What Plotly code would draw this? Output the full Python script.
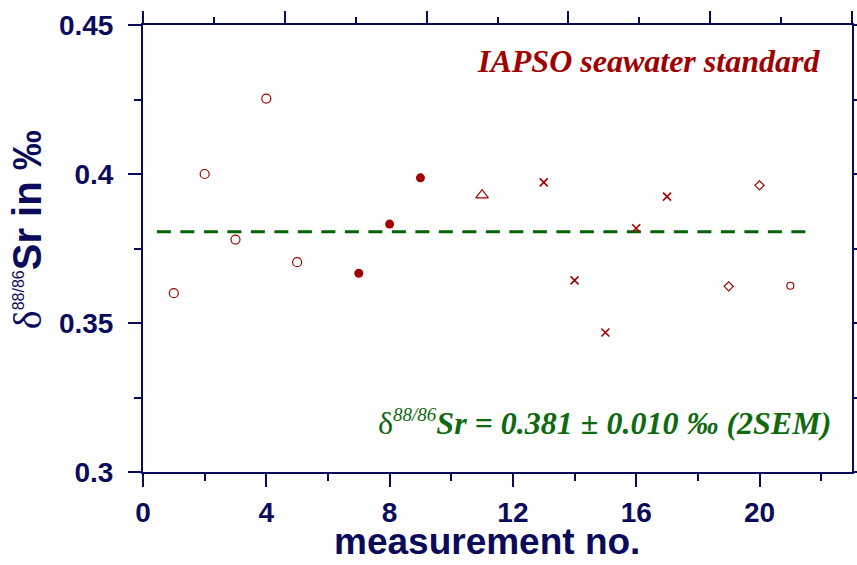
import plotly.graph_objects as go

# ---- data ----
open_x = [1, 2, 3, 4, 5]
open_y = [0.360, 0.400, 0.378, 0.4253, 0.3704]
filled_x = [7, 8, 9]
filled_y = [0.3667, 0.3832, 0.3987]
tri_x = [11]
tri_y = [0.3929]
cross_x = [13, 14, 15, 16, 17]
cross_y = [0.3972, 0.3643, 0.3468, 0.3818, 0.3924]
diam_x = [19, 20]
diam_y = [0.3623, 0.3962]
small_x = [21]
small_y = [0.3625]
mean_x = [0.45, 21.55]
mean_val = 0.3806

x_ticks = [0, 4, 8, 12, 16, 20]
y_ticks = [0.3, 0.35, 0.4, 0.45]
y_ticktext = ["0.3", "0.35", "0.4", "0.45"]

NAVY = "#0b0b5c"
RED = "#a00000"
GREEN = "#0f6a0f"

fig = go.Figure()

fig.add_trace(go.Scatter(x=mean_x, y=[mean_val, mean_val], mode="lines",
                         line=dict(color="#006400", width=3, dash="14px,9.5px"),
                         showlegend=False, hoverinfo="skip"))

def mk(x, y, symbol, size, lw=1.2):
    fig.add_trace(go.Scatter(x=x, y=y, mode="markers", showlegend=False,
                             marker=dict(symbol=symbol, size=size, color=RED,
                                         line=dict(color=RED, width=lw))))

mk(open_x, open_y, "circle-open", 9)
mk(filled_x, filled_y, "circle", 9, 0)
mk(tri_x, tri_y, "triangle-up-open", 11)
mk(cross_x, cross_y, "x-thin-open", 8, 1.6)
mk(diam_x, diam_y, "diamond-open", 7)
mk(small_x, small_y, "circle-open", 7)

# dummy trace for frame axes
fig.add_trace(go.Scatter(x=[None], y=[None], xaxis="x2", yaxis="y2",
                         showlegend=False, hoverinfo="skip"))

tickfont = dict(family="Liberation Sans", size=28, color=NAVY, weight="bold")

fig.update_layout(
    width=857, height=565,
    margin=dict(l=143, r=5, t=25, b=93, autoexpand=False),
    plot_bgcolor="white", paper_bgcolor="white",
    xaxis=dict(range=[0, 23], tickmode="array", tickvals=x_ticks,
               ticks="outside", ticklen=13, tickwidth=2, tickcolor=NAVY,
               showline=True, linewidth=2, linecolor=NAVY, showgrid=False,
               zeroline=False, tickfont=tickfont, ticklabelstandoff=1,
               automargin=False,
               minor=dict(tick0=0, dtick=2, ticks="outside", ticklen=7,
                          tickwidth=2, tickcolor=NAVY, showgrid=False)),
    yaxis=dict(range=[0.3, 0.45], tickmode="array", tickvals=y_ticks,
               ticktext=y_ticktext,
               ticks="outside", ticklen=13, tickwidth=2, tickcolor=NAVY,
               showline=True, linewidth=2, linecolor=NAVY, showgrid=False,
               zeroline=False, tickfont=tickfont, ticklabelstandoff=9,
               automargin=False,
               minor=dict(tick0=0.3, dtick=0.025, ticks="outside", ticklen=7,
                          tickwidth=2, tickcolor=NAVY, showgrid=False)),
    xaxis2=dict(overlaying="x", side="top", anchor="y2", range=[0, 10],
                tickmode="linear", tick0=0, dtick=2, ticks="outside",
                ticklen=12, tickwidth=2, tickcolor=NAVY, showticklabels=False,
                showline=True, linewidth=2, linecolor=NAVY, showgrid=False,
                zeroline=False, automargin=False,
                minor=dict(tick0=0, dtick=1, ticks="outside", ticklen=6,
                           tickwidth=2, tickcolor=NAVY, showgrid=False)),
    yaxis2=dict(overlaying="y", side="right", anchor="x2", range=[0.3, 0.45],
                tickmode="linear", tick0=0.3, dtick=0.025, ticks="outside",
                ticklen=5, tickwidth=2, tickcolor=NAVY, showticklabels=False,
                showline=True, linewidth=2, linecolor=NAVY, showgrid=False,
                zeroline=False, automargin=False),
)

fig.add_annotation(xref="paper", yref="paper", x=(486.5 - 143) / 709, y=-93 / 447,
                   text="<b>measurement no.</b>", showarrow=False,
                   xanchor="center", yanchor="bottom", yshift=1,
                   font=dict(family="Liberation Sans", size=37, color=NAVY))

fig.add_annotation(xref="paper", yref="paper", x=(27 - 143) / 709, y=0.541,
                   text=("<span style='font-family:Liberation Serif;font-weight:normal;font-size:40px'>δ</span>"
                         "<sup><span style='font-size:16px'>88/86</span></sup>"
                         "<b>Sr in ‰</b>"),
                   textangle=-90, showarrow=False,
                   xanchor="center", yanchor="middle",
                   font=dict(family="Liberation Sans", size=40, color=NAVY))

fig.add_annotation(x=16.4, y=0.438, text="<b><i>IAPSO seawater standard</i></b>",
                   showarrow=False, xanchor="center", yanchor="middle",
                   font=dict(family="Liberation Serif", size=32, color=RED))

fig.add_annotation(x=14.97, y=0.3165,
                   text=("<span style='font-weight:normal;font-style:normal'>δ</span>"
                         "<sup><i><span style='font-size:19px'>88/86</span></i></sup>"
                         "<b><i>Sr = 0.381 ± 0.010 ‰ (2SEM)</i></b>"),
                   showarrow=False, xanchor="center", yanchor="middle",
                   font=dict(family="Liberation Serif", size=32, color=GREEN))

fig.write_html("out.html", config={"displayModeBar": False},
               post_script="document.body.style.margin='0';document.body.style.overflow='hidden';")
